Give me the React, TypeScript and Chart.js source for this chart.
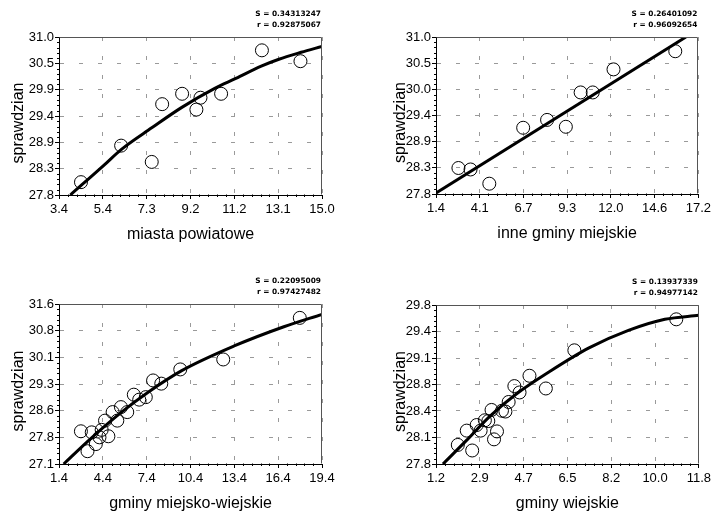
import { useEffect, useRef } from "react";
import { Chart, registerables } from "chart.js";

Chart.register(...registerables);

// ---------- data ----------
const yAxisTitle = "sprawdzian";

// Panel 1: miasta powiatowe
const p1Title = "miasta powiatowe";
const p1Stats = ["S = 0.34313247", "r = 0.92875067"];
const p1XLabels = ["3.4", "5.4", "7.3", "9.2", "11.2", "13.1", "15.0"];
const p1YLabels = ["27.8", "28.3", "28.9", "29.4", "29.9", "30.5", "31.0"];
const p1X = [4.37, 6.14, 7.49, 7.95, 8.83, 9.46, 9.64, 10.55, 12.35, 14.05];
const p1Y = [28.06, 28.8, 28.47, 29.64, 29.85, 29.53, 29.77, 29.85, 30.73, 30.51];
const p1FitX = [3.9, 5.4, 6.14, 7.49, 8.8, 10.27, 11.2, 12.32, 13.1, 14.08, 15.0];
const p1FitY = [27.8, 28.41, 28.72, 29.16, 29.57, 29.96, 30.16, 30.41, 30.55, 30.69, 30.81];

// Panel 2: inne gminy miejskie
const p2Title = "inne gminy miejskie";
const p2Stats = ["S = 0.26401092", "r = 0.96092654"];
const p2XLabels = ["1.4", "4.1", "6.7", "9.3", "12.0", "14.6", "17.2"];
const p2YLabels = ["27.8", "28.3", "28.9", "29.4", "30.0", "30.5", "31.0"];
const p2X = [2.75, 3.48, 4.61, 6.65, 8.09, 9.22, 10.11, 10.84, 12.09, 15.81];
const p2Y = [28.33, 28.3, 28.01, 29.15, 29.31, 29.17, 29.87, 29.87, 30.34, 30.71];
const p2FitX = [1.4, 16.45];
const p2FitY = [27.82, 31.0];

// Panel 3: gminy miejsko-wiejskie
const p3Title = "gminy miejsko-wiejskie";
const p3Stats = ["S = 0.22095009", "r = 0.97427482"];
const p3XLabels = ["1.4", "4.4", "7.4", "10.4", "13.4", "16.4", "19.4"];
const p3YLabels = ["27.1", "27.8", "28.6", "29.3", "30.1", "30.8", "31.6"];
const p3X = [2.9, 3.35, 3.64, 3.92, 4.17, 4.32, 4.55, 4.78, 5.07, 5.39, 5.64, 6.07, 6.52, 6.89, 7.34, 7.84, 8.4, 9.7, 12.64, 17.88];
const p3Y = [28.02, 27.46, 27.99, 27.66, 27.85, 28.06, 28.32, 27.88, 28.56, 28.32, 28.7, 28.56, 29.05, 28.91, 28.98, 29.45, 29.36, 29.76, 30.04, 31.21];
const p3FitX = [1.72, 3.42, 5.68, 7.5, 9.77, 13.39, 16.79, 19.4];
const p3FitY = [27.1, 27.76, 28.56, 29.12, 29.72, 30.42, 30.96, 31.31];

// Panel 4: gminy wiejskie
const p4Title = "gminy wiejskie";
const p4Stats = ["S = 0.13937339", "r = 0.94977142"];
const p4XLabels = ["1.2", "2.9", "4.7", "6.5", "8.2", "10.0", "11.8"];
const p4YLabels = ["27.8", "28.1", "28.4", "28.8", "29.1", "29.4", "29.8"];
const p4X = [2.08, 2.44, 2.66, 2.84, 3.0, 3.17, 3.31, 3.44, 3.54, 3.66, 3.86, 4.0, 4.13, 4.36, 4.57, 4.97, 5.63, 6.78, 10.89];
const p4Y = [28.04, 28.22, 27.97, 28.29, 28.22, 28.35, 28.34, 28.48, 28.11, 28.21, 28.47, 28.46, 28.58, 28.78, 28.7, 28.91, 28.75, 29.23, 29.62];
const p4FitX = [1.48, 2.44, 3.37, 4.44, 5.77, 7.37, 8.96, 10.43, 11.8];
const p4FitY = [27.8, 28.1, 28.4, 28.68, 28.96, 29.26, 29.48, 29.62, 29.67];

// ---------- layout ----------
const W = 357;
const H = 257;

type Area = { left: number; right: number; top: number; bottom: number };

type PanelProps = {
  offX: number;
  offY: number;
  area: Area;
  yTitleX: number;
  xLabels: string[];
  yLabels: string[];
  xs: number[];
  ys: number[];
  fitX: number[];
  fitY: number[];
  title: string;
  stats: string[];
};

const FONT = "'Liberation Sans', Arial, sans-serif";

function Panel(props: PanelProps) {
  const ref = useRef<HTMLCanvasElement>(null);

  useEffect(() => {
    const { area, xLabels, yLabels, xs, ys, fitX, fitY, title, stats, yTitleX } = props;
    const xMin = parseFloat(xLabels[0]);
    const xMax = parseFloat(xLabels[xLabels.length - 1]);
    const yMin = parseFloat(yLabels[0]);
    const yMax = parseFloat(yLabels[yLabels.length - 1]);

    const evenTicks = (labels: string[], min: number, max: number) => (scale: any) => {
      const n = labels.length;
      scale.ticks = labels.map((_, i) => ({ value: min + (i * (max - min)) / (n - 1) }));
    };

    const overlay = {
      id: "overlay",
      afterDraw(chart: any) {
        const ctx = chart.ctx;
        const ca = chart.chartArea;
        const sx = chart.scales.x;
        const sy = chart.scales.y;
        const L = Math.round(ca.left) + 0.5;
        const R = Math.round(ca.right) - 0.5;
        const T = Math.round(ca.top) + 0.5;
        const B = Math.round(ca.bottom) - 0.5;
        ctx.save();
        ctx.setLineDash([]);
        ctx.lineWidth = 1;
        // top / right frame
        ctx.strokeStyle = "#555";
        ctx.beginPath();
        ctx.moveTo(L, T);
        ctx.lineTo(R, T);
        ctx.lineTo(R, B);
        ctx.stroke();
        // minor ticks
        ctx.strokeStyle = "#000";
        ctx.beginPath();
        const nx = xLabels.length - 1;
        const stepX = (xMax - xMin) / nx;
        for (let i = 0; i < nx; i++) {
          for (let k = 1; k < 5; k++) {
            const px = Math.round(sx.getPixelForValue(xMin + (i + k / 5) * stepX)) + 0.5;
            ctx.moveTo(px, B);
            ctx.lineTo(px, B + 2.5);
          }
        }
        const ny = yLabels.length - 1;
        const stepY = (yMax - yMin) / ny;
        for (let i = 0; i < ny; i++) {
          for (let k = 1; k < 5; k++) {
            const py = Math.round(sy.getPixelForValue(yMin + (i + k / 5) * stepY)) + 0.5;
            ctx.moveTo(L, py);
            ctx.lineTo(L - 2.5, py);
          }
        }
        ctx.stroke();
        // axis titles
        ctx.fillStyle = "#000";
        ctx.font = `16px ${FONT}`;
        ctx.textAlign = "center";
        ctx.textBaseline = "middle";
        ctx.fillText(title, (ca.left + ca.right) / 2, ca.bottom + 40);
        ctx.save();
        ctx.translate(yTitleX, (ca.top + ca.bottom) / 2 + 7);
        ctx.rotate(-Math.PI / 2);
        ctx.fillText(yAxisTitle, 0, 0);
        ctx.restore();
        // fit statistics
        ctx.font = "bold 7.4px 'DejaVu Sans', sans-serif";
        ctx.textAlign = "right";
        ctx.fillText(stats[0], ca.right - 1, ca.top - 23);
        ctx.fillText(stats[1], ca.right - 1, ca.top - 12);
        ctx.restore();
      },
    };

    const tickFont = { family: FONT, size: 13 };
    const makeGrid = () => ({
      color: "#9a9a9a",
      lineWidth: 1,
      tickLength: 4,
      tickColor: "#000",
      tickWidth: 1,
    });
    const makeBorder = () => ({ color: "#000", width: 1, dash: [4, 15] });

    const chart = new Chart(ref.current as HTMLCanvasElement, {
      type: "scatter",
      data: {
        datasets: [
          {
            type: "line",
            data: fitX.map((x, i) => ({ x, y: fitY[i] })),
            borderColor: "#000",
            borderWidth: 3,
            pointRadius: 0,
            cubicInterpolationMode: "monotone",
            fill: false,
            clip: 0,
            order: 1,
          } as any,
          {
            type: "scatter",
            data: xs.map((x, i) => ({ x, y: ys[i] })),
            pointRadius: 6.5,
            pointStyle: "circle",
            borderColor: "#000",
            borderWidth: 1,
            backgroundColor: "rgba(0,0,0,0)",
            clip: false,
            order: 0,
          } as any,
        ],
      },
      options: {
        animation: false,
        responsive: false,
        plugins: { legend: { display: false }, tooltip: { enabled: false } },
        layout: { padding: { left: 0, top: area.top, right: W - area.right, bottom: 0 } },
        scales: {
          x: {
            type: "linear",
            position: "bottom",
            min: xMin,
            max: xMax,
            afterBuildTicks: evenTicks(xLabels, xMin, xMax),
            afterFit: (s: any) => {
              s.height = H - area.bottom;
            },
            ticks: {
              callback: (_v: any, i: number) => xLabels[i],
              autoSkip: false,
              maxRotation: 0,
              font: tickFont,
              color: "#000",
              padding: 3,
            },
            grid: makeGrid(),
            border: makeBorder(),
          },
          y: {
            type: "linear",
            position: "left",
            min: yMin,
            max: yMax,
            afterBuildTicks: evenTicks(yLabels, yMin, yMax),
            afterFit: (s: any) => {
              s.width = area.left;
            },
            ticks: {
              callback: (_v: any, i: number) => yLabels[i],
              autoSkip: false,
              font: tickFont,
              color: "#000",
              padding: 1,
            },
            grid: makeGrid(),
            border: makeBorder(),
          },
        },
      } as any,
      plugins: [overlay],
    });
    return () => chart.destroy();
  }, []);

  return (
    <canvas
      ref={ref}
      width={W}
      height={H}
      style={{ position: "absolute", left: props.offX, top: props.offY, width: W, height: H, display: "block" }}
    />
  );
}

export default function App() {
  return (
    <div style={{ position: "absolute", left: 0, top: 0, width: 714, height: 514, background: "#fff" }}>
      <Panel
        offX={0}
        offY={0}
        area={{ left: 59, right: 322, top: 37, bottom: 195 }}
        yTitleX={19}
        xLabels={p1XLabels}
        yLabels={p1YLabels}
        xs={p1X}
        ys={p1Y}
        fitX={p1FitX}
        fitY={p1FitY}
        title={p1Title}
        stats={p1Stats}
      />
      <Panel
        offX={357}
        offY={0}
        area={{ left: 79, right: 345, top: 37, bottom: 194 }}
        yTitleX={44}
        xLabels={p2XLabels}
        yLabels={p2YLabels}
        xs={p2X}
        ys={p2Y}
        fitX={p2FitX}
        fitY={p2FitY}
        title={p2Title}
        stats={p2Stats}
      />
      <Panel
        offX={0}
        offY={257}
        area={{ left: 59, right: 322, top: 47, bottom: 207 }}
        yTitleX={19}
        xLabels={p3XLabels}
        yLabels={p3YLabels}
        xs={p3X}
        ys={p3Y}
        fitX={p3FitX}
        fitY={p3FitY}
        title={p3Title}
        stats={p3Stats}
      />
      <Panel
        offX={357}
        offY={257}
        area={{ left: 79, right: 345, top: 48, bottom: 207 }}
        yTitleX={44}
        xLabels={p4XLabels}
        yLabels={p4YLabels}
        xs={p4X}
        ys={p4Y}
        fitX={p4FitX}
        fitY={p4FitY}
        title={p4Title}
        stats={p4Stats}
      />
    </div>
  );
}
